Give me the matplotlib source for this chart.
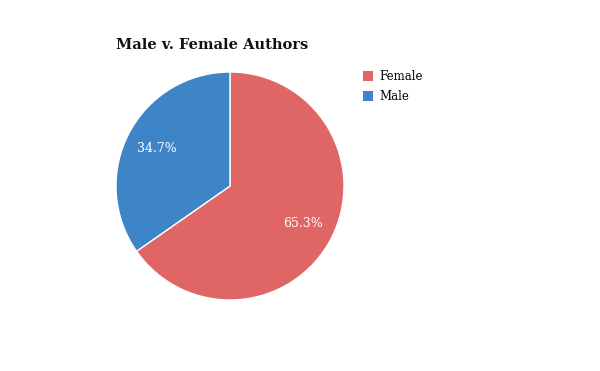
import matplotlib
matplotlib.use("Agg")
import matplotlib.pyplot as plt
from matplotlib.patches import Patch

labels = ["Female", "Male"]
values = [65.3, 34.7]
colors = ["#e06666", "#3d85c6"]

W, H = 600, 371
fig = plt.figure(figsize=(6, 3.71), dpi=100)
ax = fig.add_axes([116 / W, 71 / H, 228 / W, 228 / H])
wedges, _, autotexts = ax.pie(
    values, colors=colors, startangle=90, counterclock=False,
    autopct="%.1f%%", pctdistance=0.72,
    wedgeprops=dict(edgecolor="white", linewidth=1),
    textprops=dict(color="white", fontsize=9, family="DejaVu Serif"),
)
ax.set_xlim(-1, 1)
ax.set_ylim(-1, 1)
ax.set_aspect("equal")

fig.text(116 / W, 1 - 45 / H, "Male v. Female Authors", fontsize=10.5,
         fontweight="bold", family="DejaVu Serif", va="center", ha="left",
         color="#111111")

handles = [Patch(facecolor=c, edgecolor="none") for c in colors]
fig.legend(handles, labels, loc="upper left", bbox_to_anchor=(358 / W, 1 - 65 / H),
           frameon=False, prop=dict(family="DejaVu Serif", size=8.5),
           handlelength=0.9, handleheight=0.9, handletextpad=0.5,
           labelspacing=0.6, borderaxespad=0)

fig.savefig("out.png", dpi=100, facecolor="white")
